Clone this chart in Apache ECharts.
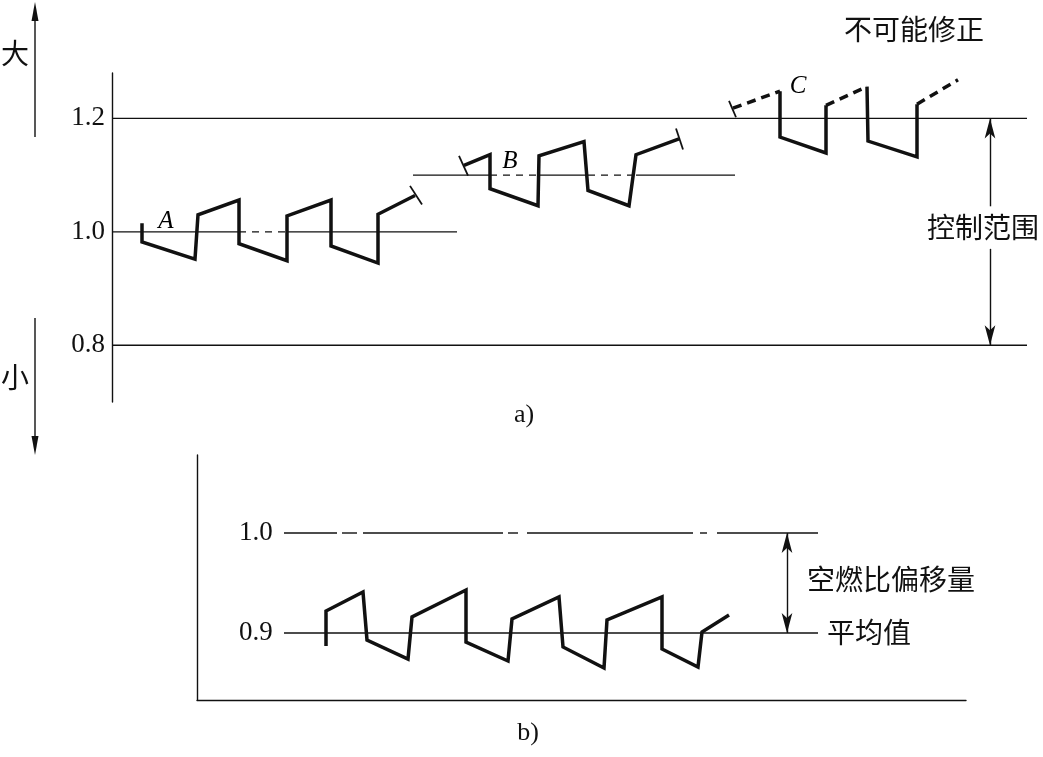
<!DOCTYPE html>
<html>
<head>
<meta charset="utf-8">
<script src="https://cdn.jsdelivr.net/npm/echarts@6/dist/echarts.min.js"></script>
<style>
  html, body { margin: 0; background: #fff; }
  #chart { width: 1043px; height: 757px; }
</style>
</head>
<body>
<div id="chart"></div>
<script>
// a) air/fuel ratio drifting out of the control range (x is plain time, no scale)
const aTickValues = [0.8, 1.0, 1.2];
const curveA = [[3.0, 1.015], [3.0, 0.982], [8.3, 0.952], [8.6, 1.030], [12.7, 1.056], [12.7, 0.979],
  [17.5, 0.949], [17.5, 1.028], [21.9, 1.056], [21.9, 0.975], [26.6, 0.945], [26.6, 1.031], [30.3, 1.064]];
const curveB = [[35.2, 1.117], [37.8, 1.136], [37.8, 1.076], [42.6, 1.046], [42.7, 1.134], [47.2, 1.159],
  [47.6, 1.073], [51.7, 1.046], [52.4, 1.136], [56.7, 1.164]];
const curveCSolid = [
  [[66.8, 1.248], [66.8, 1.167], [71.4, 1.139], [71.4, 1.223]],
  [[75.5, 1.256], [75.6, 1.160], [80.5, 1.132], [80.5, 1.225]],
];
const curveCDashed = [
  [[62.1, 1.218], [66.8, 1.248]],
  [[71.4, 1.223], [75.5, 1.256]],
  [[80.5, 1.225], [84.6, 1.268]],
];
// short cross marks at the ends of the curves
const endTicks = [
  [[29.8, 1.081], [31.0, 1.048]],
  [[34.7, 1.134], [35.6, 1.099]],
  [[56.4, 1.182], [57.1, 1.145]],
  [[61.7, 1.231], [62.4, 1.202]],
];
// reference lines: [from, to, level]
const aRefSolid = [[0, 91.5, 1.2], [0, 91.5, 0.8], [0, 12.7, 1.0], [17.5, 34.5, 1.0],
  [30.1, 37.8, 1.1], [42.6, 47.6, 1.1], [52.4, 62.3, 1.1]];
const aRefDashed = [[12.7, 17.5, 1.0], [37.8, 42.6, 1.1], [47.6, 52.4, 1.1]];
const curveNames = [['A', 5.4, 1.018], ['B', 39.8, 1.124], ['C', 68.6, 1.256]];
const controlRange = [87.8, 0.8, 1.2];   // x, low, high
const controlGap = [0.97, 1.045];        // room for the text

// b) average value offset from 1.0
const bTickValues = [0.9, 1.0];
const curveMean = [[12.9, 0.887], [12.9, 0.922], [16.6, 0.941], [17.0, 0.893], [21.1, 0.874], [21.5, 0.916],
  [26.9, 0.943], [26.9, 0.891], [31.1, 0.872], [31.5, 0.914], [36.2, 0.936], [36.6, 0.886], [40.7, 0.865],
  [41.0, 0.913], [46.5, 0.936], [46.5, 0.884], [50.1, 0.866], [50.5, 0.901], [53.2, 0.918]];
const bRefSolid = [[8.7, 14.0, 1.0], [14.5, 16.0, 1.0], [16.6, 30.6, 1.0], [31.1, 32.1, 1.0],
  [33.0, 49.6, 1.0], [50.3, 51.0, 1.0], [52.0, 62.1, 1.0], [8.7, 62.1, 0.9]];
const offsetArrow = [59.0, 0.9, 1.0];

const BLACK = '#111';
const CJK = '"Noto Sans CJK SC", sans-serif';
const SERIF = '"Liberation Serif", "DejaVu Serif", serif';

function line(points, gi, lineStyle) {
  return {
    type: 'line', xAxisIndex: gi, yAxisIndex: gi, data: points,
    symbol: 'none', silent: true, animation: false, clip: false,
    lineStyle: Object.assign({ color: BLACK, join: 'miter' }, lineStyle),
  };
}
const refToPoints = r => [[r[0], r[2]], [r[1], r[2]]];

const thick = { width: 3.5 };
const thin = { width: 1.4 };

const series = [];
aRefSolid.forEach(r => series.push(line(refToPoints(r), 0, thin)));
aRefDashed.forEach(r => series.push(line(refToPoints(r), 0, Object.assign({ type: [7, 6] }, thin))));
bRefSolid.forEach(r => series.push(line(refToPoints(r), 1, thin)));
series.push(line(curveA, 0, thick));
series.push(line(curveB, 0, thick));
curveCSolid.forEach(c => series.push(line(c, 0, thick)));
curveCDashed.forEach(c => series.push(line(c, 0, Object.assign({ type: [9, 6] }, thick))));
endTicks.forEach(t => series.push(line(t, 0, { width: 1.8 })));
series.push(line(curveMean, 1, thick));

const arrowMark = {
  silent: true, animation: false,
  symbolSize: [8, 20],
  label: { show: false },
  emphasis: { disabled: true },
  lineStyle: { color: BLACK, width: 1.4, type: 'solid' },
  itemStyle: { color: BLACK },
};
series.push({
  type: 'line', xAxisIndex: 0, yAxisIndex: 0, data: [], silent: true, animation: false,
  markLine: Object.assign({}, arrowMark, {
    symbol: ['none', 'arrow'],
    data: [
      [{ coord: [controlRange[0], controlGap[1]] }, { coord: [controlRange[0], controlRange[2]] }],
      [{ coord: [controlRange[0], controlGap[0]] }, { coord: [controlRange[0], controlRange[1]] }],
    ],
  }),
});
series.push({
  type: 'line', xAxisIndex: 1, yAxisIndex: 1, data: [], silent: true, animation: false,
  markLine: Object.assign({}, arrowMark, {
    symbol: ['arrow', 'arrow'],
    data: [[{ coord: [offsetArrow[0], offsetArrow[1]] }, { coord: [offsetArrow[0], offsetArrow[2]] }]],
  }),
});
series.push({
  type: 'scatter', xAxisIndex: 0, yAxisIndex: 0, silent: true, animation: false, clip: false,
  symbolSize: 1, itemStyle: { color: '#fff', opacity: 0 },
  data: curveNames.map(n => [n[1], n[2], n[0]]),
  label: {
    show: true, position: 'inside', formatter: p => p.data[2],
    fontFamily: SERIF, fontStyle: 'italic', fontSize: 25, color: '#000', opacity: 1,
  },
});

function text(str, x, y, font, align) {
  return {
    type: 'text', x: x, y: y, silent: true,
    style: { text: str, font: font, fill: BLACK, align: align || 'center', verticalAlign: 'middle' },
  };
}
const cjkFont = '28px ' + CJK;
const numFont = '26px ' + SERIF;

const chart = echarts.init(document.getElementById('chart'), null, { renderer: 'canvas' });
chart.setOption({
  backgroundColor: '#fff',
  animation: false,
  grid: [
    { left: 112, top: 73, width: 931, height: 329, outerBoundsMode: 'none' },
    { left: 197, top: 455, width: 769, height: 245, outerBoundsMode: 'none' },
  ],
  xAxis: [
    { gridIndex: 0, type: 'value', min: 0, max: 93.1, show: false },
    {
      gridIndex: 1, type: 'value', min: 0, max: 76.9,
      axisLine: { show: true, onZero: false, lineStyle: { color: BLACK, width: 1.4 } },
      axisTick: { show: false }, axisLabel: { show: false }, splitLine: { show: false },
    },
  ],
  yAxis: [
    {
      gridIndex: 0, type: 'value', min: 0.7, max: 1.28,
      axisLine: { show: true, lineStyle: { color: BLACK, width: 1.4 } },
      axisTick: { show: false }, splitLine: { show: false },
      axisLabel: {
        customValues: aTickValues, formatter: v => v.toFixed(1), margin: 7,
        color: BLACK, fontFamily: SERIF, fontSize: 27,
      },
    },
    {
      gridIndex: 1, type: 'value', min: 0.833, max: 1.078,
      axisLine: { show: true, onZero: false, lineStyle: { color: BLACK, width: 1.4 } },
      axisTick: { show: false }, splitLine: { show: false },
      axisLabel: {
        customValues: bTickValues, formatter: v => v.toFixed(1), inside: true, margin: 42,
        color: BLACK, fontFamily: SERIF, fontSize: 27,
      },
    },
  ],
  graphic: [
    // 大 / 小 direction arrows on the far left
    { type: 'line', silent: true, shape: { x1: 35, y1: 137, x2: 35, y2: 16 }, style: { stroke: BLACK, lineWidth: 1.4 } },
    { type: 'polygon', silent: true, shape: { points: [[35, 2], [31.5, 21], [38.5, 21]] }, style: { fill: BLACK } },
    { type: 'line', silent: true, shape: { x1: 35, y1: 318, x2: 35, y2: 440 }, style: { stroke: BLACK, lineWidth: 1.4 } },
    { type: 'polygon', silent: true, shape: { points: [[35, 455], [31.5, 436], [38.5, 436]] }, style: { fill: BLACK } },
    text('大', 15, 53, cjkFont),
    text('小', 15, 377, cjkFont),
    text('不可能修正', 914, 29, cjkFont),
    text('控制范围', 983, 227, cjkFont),
    text('空燃比偏移量', 807, 579, cjkFont, 'left'),
    text('平均值', 827, 632, cjkFont, 'left'),
    text('a)', 524, 415, numFont),
    text('b)', 528, 733, numFont),
  ],
  series: series,
});
</script>
</body>
</html>
